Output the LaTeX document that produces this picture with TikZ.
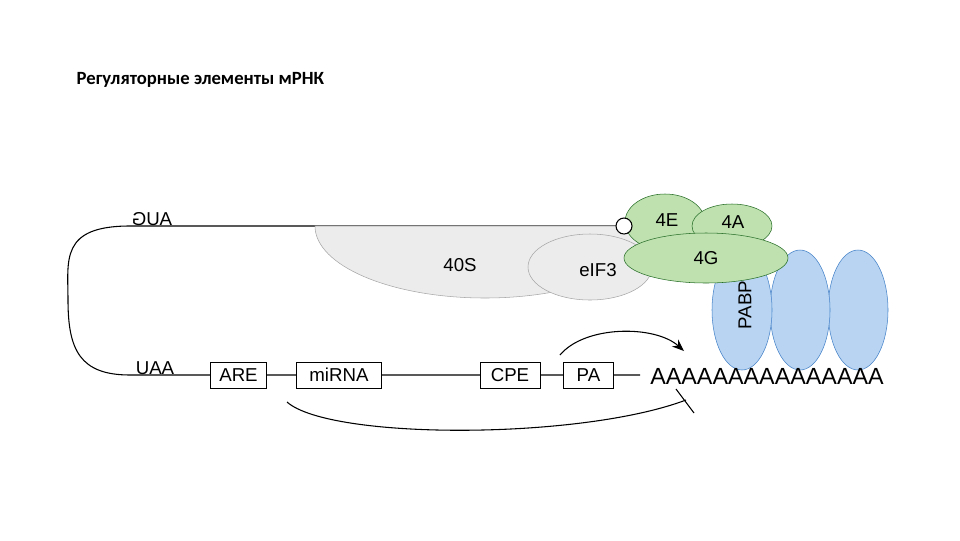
\documentclass[tikz,border=0pt]{standalone}
\usepackage{fontspec}
\setmainfont{Liberation Sans}
\newfontfamily\titlefont{Carlito}
\usetikzlibrary{arrows.meta}
\definecolor{pbfill}{RGB}{184,212,242}
\definecolor{pbdraw}{RGB}{70,130,200}
\definecolor{gnfill}{RGB}{190,225,175}
\definecolor{gndraw}{RGB}{40,110,40}
\begin{document}
\begin{tikzpicture}[x=0.75pt,y=-0.75pt,
  lbl/.style={font=\fontsize{14}{16}\selectfont},
  box/.style={draw,semithick,minimum height=19.5pt,font=\fontsize{14}{16}\selectfont,inner sep=1pt,fill=white},
  gr/.style={draw=gray!70,fill=gray!15},
  gn/.style={draw=gndraw,fill=gnfill},
  bl/.style={draw=pbdraw,fill=pbfill}]
\useasboundingbox (0,0) rectangle (960,540);
\node[anchor=west,font=\titlefont\bfseries\fontsize{14}{16}\selectfont] (title) at (72,80) {Регуляторные элементы мРНК};
% mRNA line
\draw[thick] (617,226) -- (130,226) .. controls (60,226) and (68,260) .. (68,300) .. controls (68,350) and (80,375) .. (130,375) -- (640,375);
\node[lbl,xscale=-1] (aug) at (152,219) {AUG};
\node[lbl] (uaa) at (155,368) {UAA};
% 40S
\draw[gr] (315,226) arc[start angle=180,end angle=0,x radius=170,y radius=72] -- cycle;
\node[lbl] (s40) at (460,265) {40S};
\draw[gr] (590,267) ellipse[x radius=62,y radius=33];
\node[lbl] (eif3) at (598,270) {eIF3};
% PABP
\foreach \x/\n in {858/p3,800/p2,742/p1}{\draw[bl] (\x,310) ellipse[x radius=30,y radius=60];}
\node[lbl,rotate=90] (pabp) at (745,305) {PABP};
% green
\draw[gn] (665,222) ellipse[x radius=40,y radius=28];
\draw[gn] (732,226) ellipse[x radius=40,y radius=22];
\draw[gn] (706,258) ellipse[x radius=82,y radius=25];
\node[lbl] (e4) at (667,220) {4E};
\node[lbl] (a4) at (733,222) {4A};
\node[lbl] (g4) at (706,258) {4G};
\draw[thick,fill=white] (624,226) circle[radius=8];
% boxes
\node[box,minimum width=42pt] (are) at (238.5,375) {ARE};
\node[box,minimum width=64pt] (mirna) at (339,375) {miRNA};
\node[box,minimum width=45pt] (cpe) at (510,375) {CPE};
\node[box,minimum width=37pt] (pa) at (588.5,375) {PA};
\node[font=\fontsize{17.5}{19}\selectfont,anchor=west,inner sep=0] (polya) at (650,376) {AAAAAAAAAAAAAAA};
% arrows
\coordinate (a1) at (560,355);
\coordinate (a2) at (684,351);
\draw[thick,-{Stealth[length=9pt,width=7pt]}] (a1) .. controls (585,325) and (655,325) .. (a2);
\coordinate (b1) at (287,402);
\coordinate (b2) at (686,400);
\draw[thick] (b1) .. controls (330,440) and (580,440) .. (b2);
\draw[thick] (676,389) -- (694,413);
\end{tikzpicture}
\end{document}
